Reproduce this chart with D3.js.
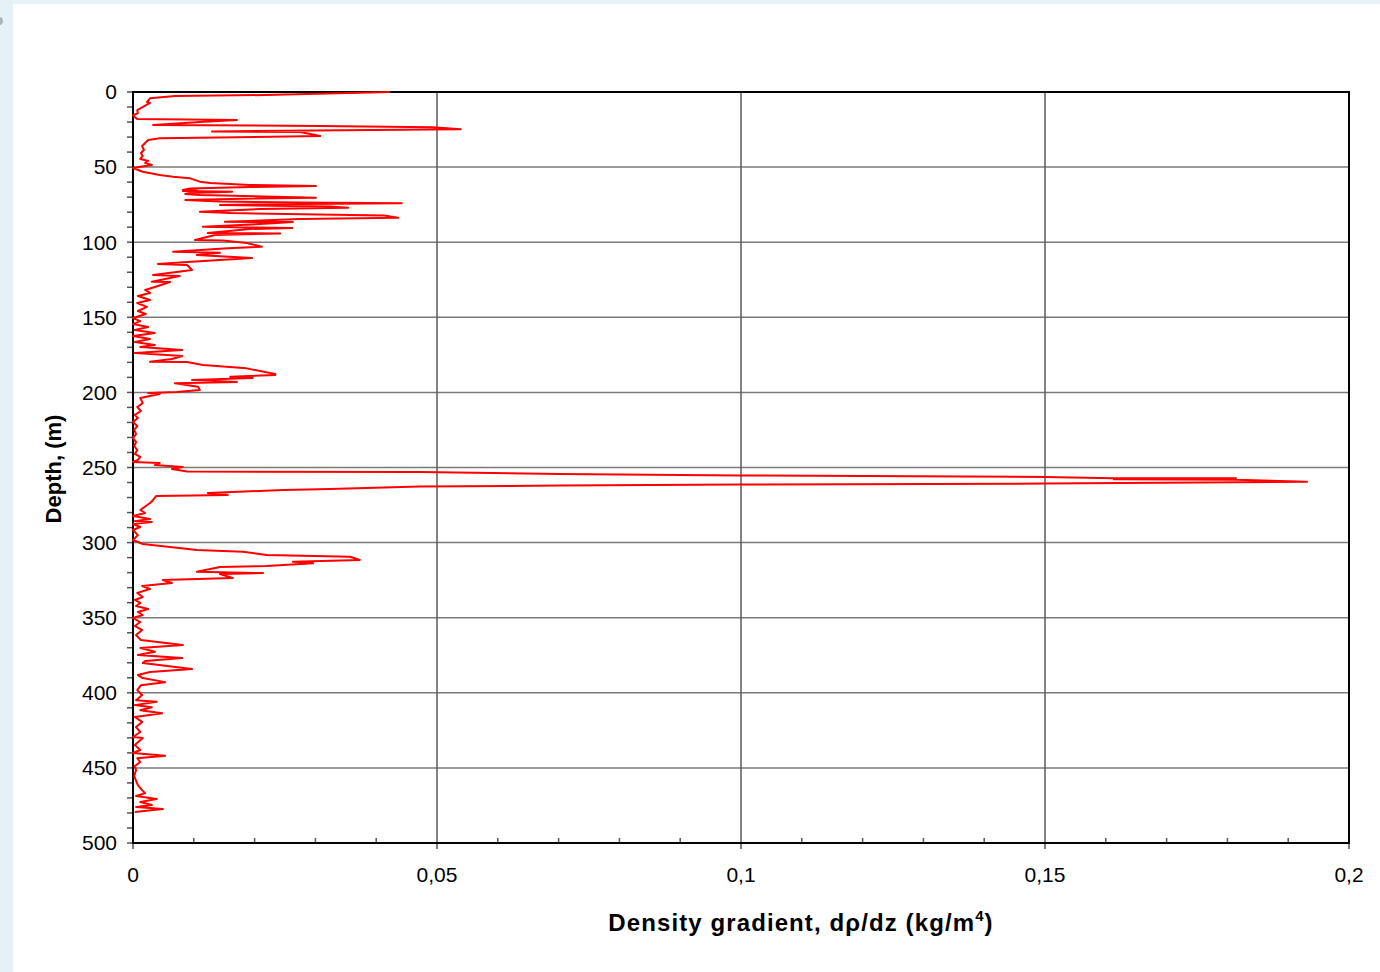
<!DOCTYPE html>
<html>
<head>
<meta charset="utf-8">
<script src="https://cdn.jsdelivr.net/npm/d3@7"></script>
<style>
  html, body { margin: 0; padding: 0; background: #e6f0f7; }
  svg { display: block; }
  text { font-family: "Liberation Sans", Arial, sans-serif; }
</style>
</head>
<body>
<svg id="chart" width="1380" height="972"></svg>
<script>
// Depth (m) along the profile
const depth = [
  0,2.0,2.7,4.2,6.7,7.3,12.0,14.0,15.6,18.0,18.6,20.0,22.0,22.6,23.5,24.8,26.3,26.6,29.3,30.8,32.0,
  34.0,36.0,38.6,40.6,42.6,44.6,45.9,47.3,48.6,50.6,
  53.1,55.3,56.4,57.5,59.7,60.6,61.9,62.6,63.3,64.2,65.2,65.6,65.9,66.4,67.2,67.9,68.6,70.4,71.2,71.9,
  72.9,73.6,74.1,74.6,75.2,76.2,77.0,77.9,79.7,80.6,82.2,83.7,84.6,86.4,86.6,87.9,89.7,90.2,90.5,91.2,
  93.9,94.2,95.2,98.5,98.9,100.5,103.0,104.1,106.3,107.0,108.5,110.5,113.2,114.5,115.2,118.5,121.8,122.5,
  126.3,126.5,129.8,131.8,133.8,135.8,138.5,140.5,143.1,145.8,147.8,150.5,
  152.5,154.5,156.5,158.5,160.4,162.5,164.5,166.4,168.4,169.8,171.8,173.8,175.8,177.8,179.6,179.8,
  181.8,184.0,187.8,188.4,189.5,190.4,191.7,193.1,193.9,196.2,198.4,199.7,200.4,201.1,203.7,207.1,
  209.7,212.4,215.0,217.0,
  219.7,222.4,225.0,227.7,230.4,233.0,235.7,238.4,241.0,243.0,245.0,246.3,247.0,
  248.4,249.7,251.0,252.7,253.0,254.3,255.3,256.3,257.2,257.2,257.9,258.2,259.5,260.0,260.7,261.3,262.0,
  262.7,264.3,265.0,267.0,268.3,269.0,271.6,273.6,278.3,280.3,282.3,284.3,285.7,286.3,287.7,289.6,291.6,
  295.0,298.3,300.9,303.0,305.0,306.1,308.3,309.4,311.6,312.7,313.8,315.6,316.3,319.4,320.3,320.9,323.6,
  324.9,326.9,328.9,330.9,333.5,336.2,338.2,
  340.2,342.2,344.2,346.2,348.2,350.2,352.9,355.5,358.2,361.5,364.9,368.2,370.2,372.6,374.9,376.9,378.8,
  380.2,384.2,386.2,388.2,390.2,392.9,394.9,398.2,401.5,404.9,406.0,408.2,409.6,411.6,413.6,416.1,419.4,
  422.8,426.1,429.4,430.1,434.8,438.1,440.1,441.9,443.5,446.1,448.8,451.5,455.5,461.4,464.8,466.8,468.7,
  470.7,472.7,474.7,476.0,477.4,479.4
];
// Density gradient dρ/dz (kg/m^4) at each depth
const gradient = [
  0.0423,0.0217,0.0069,0.0028,0.0023,0.0028,0.0007,0.0008,0,0.0007,0.0171,0.0110,0.0033,0.0308,0.0493,0.0539,0.0130,0.0275,0.0308,0.0044,0.0025,
  0.0020,0.0015,0.0018,0.0013,0.0016,0.0012,0.0025,0.0020,0.0031,0,
  0.0016,0.0044,0.0066,0.0094,0.0110,0.0127,0.0192,0.0301,0.0192,0.0094,0.0082,0.0105,0.0082,0.0163,0.0094,0.0086,0.0110,0.0301,0.0160,0.0086,
  0.0143,0.0275,0.0442,0.0275,0.0143,0.0324,0.0354,0.0209,0.0110,0.0160,0.0413,0.0436,0.0275,0.0151,0.0263,0.0209,0.0115,0.0192,0.0262,0.0192,
  0.0123,0.0242,0.0135,0.0102,0.0148,0.0187,0.0212,0.0156,0.0066,0.0143,0.0105,0.0196,0.0089,0.0041,0.0089,0.0097,0.0033,0.0077,
  0.0031,0.0061,0.0036,0.0020,0.0028,0.0008,0.0028,0.0007,0.0023,0.0008,0.0021,0,
  0.0012,0,0.0025,0.0003,0.0036,0,0.0028,0.0003,0.0036,0.0012,0.0081,0.0003,0.0081,0.0064,0.0028,0.0089,
  0.0115,0.0187,0.0234,0.0234,0.0160,0.0197,0.0097,0.0171,0.0069,0.0107,0.0110,0.0072,0.0025,0.0044,0.0012,0.0016,
  0.0007,0.0013,0.0003,0.0008,
  0,0.0007,0.0002,0.0005,0,0.0005,0.0002,0.0007,0.0003,0.0012,0.0008,0,0.0044,
  0.0036,0.0082,0.0064,0.0089,0.0472,0.0702,0.0998,0.1500,0.1613,0.1814,0.1613,0.1814,0.1931,0.1755,0.1500,0.0998,0.0702,
  0.0472,0.0324,0.0247,0.0123,0.0156,0.0038,0.0033,0.0028,0.0012,0.0020,0,0.0028,0.0003,0.0031,0,0.0012,0,
  0.0008,0,0.0016,0.0061,0.0105,0.0181,0.0220,0.0357,0.0373,0.0263,0.0296,0.0220,0.0143,0.0105,0.0214,0.0143,0.0164,
  0.0049,0.0064,0.0015,0.0028,0.0007,0.0016,0.0003,
  0.0012,0.0005,0.0025,0.0008,0.0016,0,0.0012,0.0003,0.0015,0.0005,0.0013,0.0082,0.0012,0.0036,0.0008,0.0081,0.0020,
  0.0016,0.0097,0.0028,0.0008,0.0016,0.0053,0.0013,0.0007,0.0015,0.0005,0.0039,0.0003,0.0031,0.0012,0.0048,0.0003,0.0015,
  0.0005,0.0012,0,0.0016,0.0003,0.0012,0,0.0053,0.0007,0.0012,0.0003,0.0005,0.0002,0.0008,0.0015,0.0020,0.0005,
  0.0039,0.0012,0.0031,0.0005,0.0049,0.0003
];
const xMajorTicks = [0, 0.05, 0.1, 0.15, 0.2];
const xTickLabels = ["0", "0,05", "0,1", "0,15", "0,2"];
const yMajorTicks = [0, 50, 100, 150, 200, 250, 300, 350, 400, 450, 500];
const xTitle = "Density gradient, dρ/dz (kg/m";
const xTitleSup = "4";
const xTitleEnd = ")";
const yTitle = "Depth, (m)";

const svg = d3.select("#chart");
// page panel
svg.append("rect").attr("x", 0).attr("y", 0).attr("width", 1380).attr("height", 972).attr("fill", "#e6f0f7");
svg.append("rect").attr("x", 13).attr("y", 4).attr("width", 1367).attr("height", 968).attr("fill", "#ffffff");
svg.append("circle").attr("cx", -1).attr("cy", 21).attr("r", 4).attr("fill", "#aab4bb");

const L = 133, R = 1349, T = 92, B = 843;
const x = d3.scaleLinear().domain([0, 0.2]).range([L, R]);
const y = d3.scaleLinear().domain([0, 500]).range([T, B]);

// gridlines
const g = svg.append("g");
g.selectAll("line.hg").data(yMajorTicks.filter(d => d > 0 && d < 500)).join("line")
  .attr("x1", L).attr("x2", R).attr("y1", d => y(d)).attr("y2", d => y(d))
  .attr("stroke", "#7a7a7a").attr("stroke-width", 1.5);
g.selectAll("line.vg").data(xMajorTicks.filter(d => d > 0 && d < 0.2)).join("line")
  .attr("x1", d => x(d)).attr("x2", d => x(d)).attr("y1", T).attr("y2", B)
  .attr("stroke", "#5a5a5a").attr("stroke-width", 1.5);

// y axis ticks (major + minor, outside)
const yMinor = d3.range(0, 501, 10);
svg.append("g").selectAll("line").data(yMinor).join("line")
  .attr("x1", L - 6).attr("x2", L).attr("y1", d => y(d)).attr("y2", d => y(d))
  .attr("stroke", "#555").attr("stroke-width", 1.5);
// x axis ticks: minor inside, major outside
const xMinor = d3.range(0, 0.2001, 0.01).filter(v => Math.abs(Math.round(v * 20) - v * 20) > 1e-6);
svg.append("g").selectAll("line").data(xMinor).join("line")
  .attr("x1", d => x(d)).attr("x2", d => x(d)).attr("y1", B - 5).attr("y2", B)
  .attr("stroke", "#555").attr("stroke-width", 1.5);
svg.append("g").selectAll("line").data(xMajorTicks).join("line")
  .attr("x1", d => x(d)).attr("x2", d => x(d)).attr("y1", B).attr("y2", B + 6)
  .attr("stroke", "#555").attr("stroke-width", 1.5);

// plot frame
svg.append("rect").attr("x", L).attr("y", T).attr("width", R - L).attr("height", B - T)
  .attr("fill", "none").attr("stroke", "#000").attr("stroke-width", 2);

// data line
const pts = depth.map((d, i) => [gradient[i], d]);
svg.append("path").datum(pts)
  .attr("d", d3.line().x(p => x(p[0])).y(p => y(p[1])))
  .attr("fill", "none").attr("stroke", "#ff0000").attr("stroke-width", 2).attr("stroke-linejoin", "round");

// tick labels
svg.append("g").selectAll("text").data(yMajorTicks).join("text")
  .attr("x", 117).attr("y", d => y(d)).attr("dy", "0.35em").attr("text-anchor", "end")
  .attr("font-size", 21).attr("fill", "#000").text(d => d);
svg.append("g").selectAll("text").data(xMajorTicks).join("text")
  .attr("x", d => x(d)).attr("y", 882).attr("text-anchor", "middle")
  .attr("font-size", 21).attr("fill", "#000").text((d, i) => xTickLabels[i]);

// axis titles
const xt = svg.append("text").attr("x", 801).attr("y", 931).attr("text-anchor", "middle")
  .attr("font-size", 24).attr("font-weight", "bold").attr("letter-spacing", 1.1).attr("fill", "#000");
xt.append("tspan").text(xTitle);
xt.append("tspan").attr("font-size", 15).attr("dy", -10).text(xTitleSup);
xt.append("tspan").attr("dy", 10).text(xTitleEnd);

svg.append("text").attr("transform", "translate(61,469) rotate(-90)").attr("text-anchor", "middle")
  .attr("font-size", 22).attr("font-weight", "bold").attr("fill", "#000").text(yTitle);
</script>
</body>
</html>
